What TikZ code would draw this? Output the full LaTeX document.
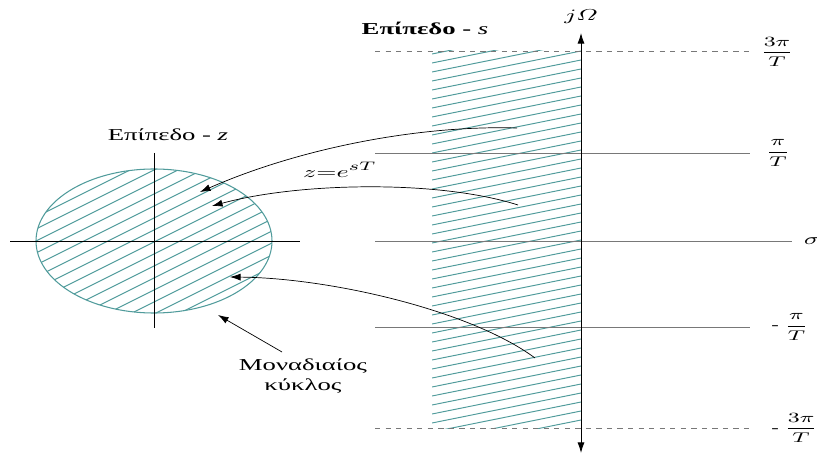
\documentclass[tikz,border=0pt]{standalone}
\usepackage{amsmath}
\usepackage{fontspec}
\setmainfont{Liberation Serif}
\usetikzlibrary{arrows.meta}
\definecolor{hatchteal}{RGB}{80,155,155}
\definecolor{griddim}{RGB}{120,120,120}

\begin{document}
\begin{tikzpicture}[x=0.02cm,y=-0.02cm,
    lbl/.style={xscale=1.6,inner sep=1pt,font=\fontsize{9.5}{11}\selectfont},
    frac/.style={xscale=1.6,inner sep=1pt,font=\fontsize{8}{10}\selectfont},
    hatch/.style={hatchteal,line width=0.55pt},
    gridline/.style={griddim,line width=0.4pt},
    mapto/.style={-{Latex[length=6pt,width=4pt]},line width=0.4pt}]
  \useasboundingbox (0,0) rectangle (817,455);
  % z-plane
  \begin{scope}
    \clip (154,241) ellipse [x radius=118,y radius=72];
    \foreach \c in {160,172,...,440}
      \draw[hatch] (30,\c) -- (280,\c-125);
  \end{scope}
  \draw[hatchteal,line width=0.6pt] (154,241) ellipse [x radius=118,y radius=72];
  \draw[line width=0.5pt] (10,241) -- (300,241);
  \draw[line width=0.5pt] (154,153) -- (154,328);
  \node[lbl] (zlabel) at (168,135) {Επίπεδο - \textit{z}};
  % s-plane strip
  \begin{scope}
    \clip (432,51) rectangle (581,428);
    \foreach \c in {45,54,...,465}
      \draw[hatch] (432,\c) -- (581,\c-30);
  \end{scope}
  \draw[gridline,dashed] (375,51) -- (750,51);
  \draw[gridline] (375,153) -- (750,153);
  \draw[gridline] (375,241) -- (792,241);
  \draw[gridline] (375,327) -- (750,327);
  \draw[gridline,dashed] (375,428) -- (750,428);
  \draw[{Latex[length=6pt,width=4pt]}-{Latex[length=6pt,width=4pt]},line width=0.5pt]
    (581,453) -- (581,33);
  \node[lbl,font=\fontsize{9.5}{11}\selectfont\bfseries] (slabel) at (425,28) {Επίπεδο - \textit{\mdseries s}};
  \node[lbl] (jw) at (581,17) {$j\varOmega$};
  \node[lbl] (sigma) at (812,241) {$\sigma$};
  \node[frac] (tpit) at (777,52) {$\dfrac{3\pi}{T}$};
  \node[frac] (pit) at (778,153) {$\dfrac{\pi}{T}$};
  \node[frac,anchor=west] (mpit) at (768,327) {- $\dfrac{\pi}{T}$};
  \node[frac,anchor=west] (mtpit) at (768,428) {- $\dfrac{3\pi}{T}$};
  % mapping z = e^{sT}
  \node[lbl] (map) at (340,170) {$z{=}e^{sT}$};
  \node[lbl,align=center] (unit) at (303,376) {Μοναδιαίος\\κύκλος};
  \coordinate (s1) at (517,128);
  \coordinate (z1) at (200,192);
  \coordinate (s2) at (518,205);
  \coordinate (z2) at (212,206);
  \coordinate (s3) at (535,358);
  \coordinate (z3) at (230,277);
  \coordinate (u1) at (282,352);
  \coordinate (z4) at (218,315);
  \draw[mapto] (s1) .. controls (420,125) and (300,148) .. (z1);
  \draw[mapto] (s2) .. controls (440,180) and (300,182) .. (z2);
  \draw[mapto] (s3) .. controls (470,310) and (330,278) .. (z3);
  \draw[mapto] (u1) -- (z4);
\end{tikzpicture}
\end{document}
